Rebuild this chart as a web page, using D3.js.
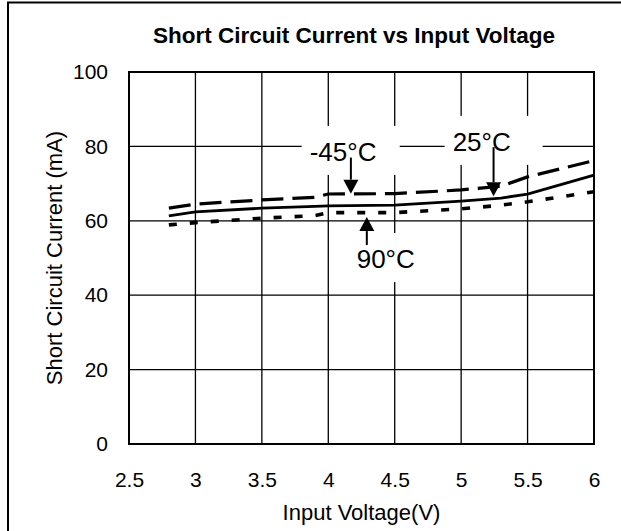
<!DOCTYPE html>
<html><head><meta charset="utf-8">
<script src="https://cdn.jsdelivr.net/npm/d3@7"></script>
<style>
body{margin:0;background:#fff}
svg{display:block}
text{font-family:"Liberation Sans",Arial,sans-serif;fill:#000}
</style>
</head><body>
<svg id="c" width="621" height="531"></svg>
<script>
// ---- data ----
const voltage    = [2.8, 3.0, 3.5, 3.9, 4.0, 4.5, 5.0, 5.3, 5.5, 6.0];
const current25  = [61.3, 62.4, 63.4, 63.9, 64.0, 64.2, 65.3, 66.1, 67.2, 72.3];
const currentM45 = [63.4, 64.5, 65.6, 66.3, 67.2, 67.3, 68.3, 69.3, 71.8, 76.2];
const current90  = [58.9, 59.5, 60.7, 61.4, 62.2, 62.2, 63.2, 64.2, 65.1, 67.8];
const xTicks = [2.5, 3, 3.5, 4, 4.5, 5, 5.5, 6];
const yTicks = [0, 20, 40, 60, 80, 100];
const seriesNames = ["25°C", "-45°C", "90°C"];
const titleText = "Short Circuit Current vs Input Voltage";
const xTitle = "Input Voltage(V)";
const yTitle = "Short Circuit Current (mA)";
// annotation anchors in data units: text left/baseline, arrow x, arrow start, arrow tip
const annotations = [
  {label: "-45°C", tx: 3.86, ty: 76.1, ax: 4.17, a0: 77.0, a1: 67.3},
  {label: "25°C",  tx: 4.936, ty: 78.8, ax: 5.244, a0: 79.8, a1: 66.6},
  {label: "90°C",  tx: 4.214, ty: 47.3, ax: 4.29, a0: 53.5, a1: 61.0}
];

// ---- layout ----
const svg = d3.select("#c");
const L = 129, R = 594, T = 72, B = 444;
const x = d3.scaleLinear().domain([2.5, 6]).range([L, R]);
const y = d3.scaleLinear().domain([0, 100]).range([B, T]);

// outer frame (clipped at right/bottom like the reference)
svg.append("rect").attr("x", 8).attr("y", 2.5).attr("width", 700).attr("height", 700)
  .attr("fill", "#fff").attr("stroke", "#000").attr("stroke-width", 2);

// title
svg.append("text").attr("x", 354).attr("y", 43).attr("text-anchor", "middle")
  .attr("font-size", 22.5).attr("font-weight", "bold").text(titleText);

// grid
const grid = svg.append("g").attr("stroke", "#000").attr("stroke-width", 1.3);
grid.selectAll("line.v").data(xTicks).join("line").attr("class", "v")
  .attr("x1", d => x(d)).attr("x2", d => x(d)).attr("y1", T).attr("y2", B);
grid.selectAll("line.h").data(yTicks).join("line").attr("class", "h")
  .attr("x1", L).attr("x2", R).attr("y1", d => y(d)).attr("y2", d => y(d));
svg.append("rect").attr("x", L).attr("y", T).attr("width", R - L).attr("height", B - T)
  .attr("fill", "none").attr("stroke", "#000").attr("stroke-width", 2);

// axes labels via d3 axes
const xAxis = svg.append("g").attr("transform", `translate(0,${B})`)
  .call(d3.axisBottom(x).tickValues(xTicks).tickSize(0).tickPadding(28).tickFormat(d3.format("")));
const yAxis = svg.append("g").attr("transform", `translate(${L},0)`)
  .call(d3.axisLeft(y).tickValues(yTicks).tickSize(0).tickPadding(21).tickFormat(d3.format("")));
[xAxis, yAxis].forEach(a => {
  a.select(".domain").remove();
  a.selectAll("text").attr("font-size", 21).attr("font-family", '"Liberation Sans",Arial,sans-serif').attr("fill", "#000");
});

svg.append("text").attr("x", x(4.25)).attr("y", 520).attr("text-anchor", "middle")
  .attr("font-size", 22).text(xTitle);
svg.append("text").attr("transform", `translate(62,${(T + B) / 2}) rotate(-90)`).attr("text-anchor", "middle")
  .attr("font-size", 22).text(yTitle);

// annotation white boxes
annotations.forEach(a => {
  svg.append("rect").attr("x", x(a.tx) - 8).attr("y", y(a.ty) - 35)
    .attr("width", 98).attr("height", 49).attr("fill", "#fff");
});

// series lines
const line = d3.line().x((d, i) => x(voltage[i])).y(d => y(d));
const styles = [
  {data: current25,  dash: null,    w: 2.8},
  {data: currentM45, dash: "22,9",  w: 3.2},
  {data: current90,  dash: "8,13",  w: 3.6}
];
styles.forEach(s => {
  svg.append("path").attr("d", line(s.data)).attr("fill", "none").attr("stroke", "#000")
    .attr("stroke-width", s.w).attr("stroke-dasharray", s.dash);
});

// annotations: text and arrows
annotations.forEach(a => {
  svg.append("text").attr("x", x(a.tx)).attr("y", y(a.ty)).attr("font-size", 26).text(a.label);
  const ax = x(a.ax), y0 = y(a.a0), y1 = y(a.a1);
  const dir = y1 > y0 ? 1 : -1;
  const hb = y1 - dir * 14;
  svg.append("line").attr("x1", ax).attr("x2", ax).attr("y1", y0).attr("y2", hb)
    .attr("stroke", "#000").attr("stroke-width", 2);
  svg.append("path").attr("d", `M${ax - 7.5},${hb}L${ax + 7.5},${hb}L${ax},${y1}Z`).attr("fill", "#000");
});
</script>
</body></html>
